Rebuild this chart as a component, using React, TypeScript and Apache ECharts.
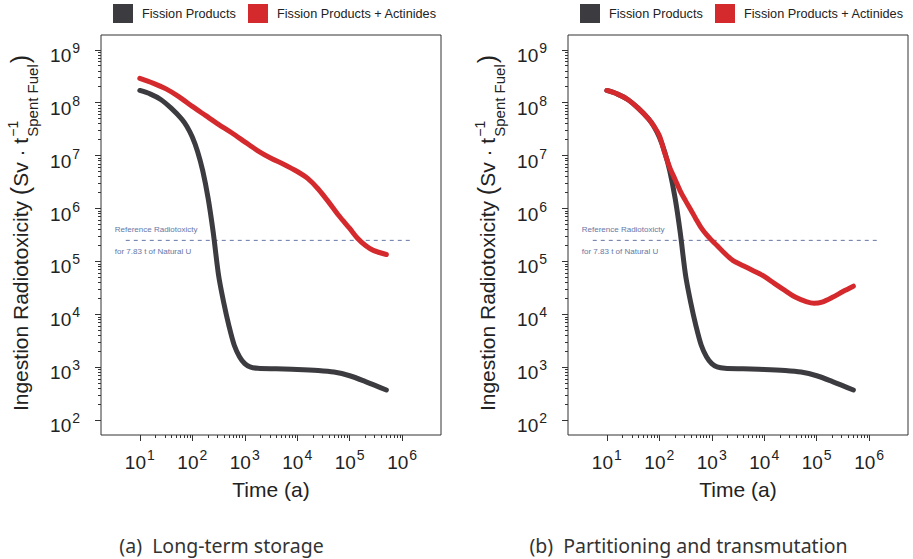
import React, { useEffect, useRef } from "react";
import * as echarts from "echarts";

const SERIES_NAMES = ["Fission Products", "Fission Products + Actinides"];

// Fission products only (same in both panels): time (a), radiotoxicity (Sv / t)
const FP_TIME = [10, 16, 25, 40, 63, 79, 100, 126, 158, 200, 251, 316, 398, 501, 631, 794, 1000, 1260, 1780, 3980, 10000, 25100, 50100, 100000, 200000, 500000];
const FP_VALUE = [1.7e8, 1.45e8, 1.15e8, 7.8e7, 4.9e7, 3.55e7, 2.24e7, 1.2e7, 5.2e6, 1.58e6, 3.5e5, 5.6e4, 1.66e4, 6.0e3, 2.6e3, 1.58e3, 1.17e3, 1.02e3, 955, 933, 912, 871, 813, 692, 537, 372];

// (a) Long-term storage: fission products + actinides
const FPA_A_TIME = [10, 17.8, 31.6, 56.2, 100, 178, 316, 562, 1000, 1780, 3160, 5620, 10000, 15800, 25100, 39800, 63100, 100000, 141000, 200000, 282000, 500000];
const FPA_A_VALUE = [2.88e8, 2.34e8, 1.82e8, 1.29e8, 8.5e7, 5.75e7, 3.9e7, 2.7e7, 1.82e7, 1.23e7, 8.9e6, 6.8e6, 5.0e6, 3.7e6, 2.34e6, 1.32e6, 7.2e5, 4.2e5, 2.75e5, 2.0e5, 1.62e5, 1.35e5];

// (b) Partitioning and transmutation: fission products + actinides
const FPA_B_TIME = [10, 16, 25, 40, 63, 79, 100, 126, 158, 200, 251, 316, 398, 501, 631, 794, 1000, 1260, 1780, 2510, 3980, 6310, 10000, 15800, 25100, 39800, 63100, 89100, 126000, 200000, 316000, 500000];
const FPA_B_VALUE = [1.7e8, 1.45e8, 1.15e8, 7.8e7, 4.9e7, 3.6e7, 2.4e7, 1.15e7, 6.0e6, 3.55e6, 2.14e6, 1.41e6, 9.5e5, 6.3e5, 4.3e5, 3.2e5, 2.5e5, 2.0e5, 1.41e5, 1.05e5, 8.3e4, 6.6e4, 5.2e4, 3.8e4, 2.8e4, 2.1e4, 1.74e4, 1.62e4, 1.7e4, 2.1e4, 2.7e4, 3.4e4];

// Reference radiotoxicity for 7.83 t of natural U
const REF_TIME = [5.4, 1.6e6];
const REF_VALUE = 2.5e5;
const REF_LABELS = ["Reference Radiotoxicty", "for 7.83 t of Natural U"];

const MAJOR_X = [1e1, 1e2, 1e3, 1e4, 1e5, 1e6];
const MAJOR_Y = [1e2, 1e3, 1e4, 1e5, 1e6, 1e7, 1e8, 1e9];
const MINOR_MULT = [2, 3, 4, 5, 6, 7, 8, 9];
const X_RANGE = [1.82, 5.5e6];
const Y_RANGE = [52.5, 1.9e9];

const CAPTIONS = ["(a)\u00a0\u00a0Long-term storage", "(b)\u00a0\u00a0Partitioning and transmutation"];
const X_TITLE = "Time (a)";

const FONT = "'Liberation Sans', Arial, Helvetica, sans-serif";
const CAP_FONT = "'Noto Sans', Lato, sans-serif";
const DARK = "#3b3b40";
const RED = "#d42a2e";
const REFC = "#6677a6";
const TXT = "#222222";

const minors = (majors: number[]) => {
  const out: number[] = [];
  majors.slice(0, -1).forEach((m) => MINOR_MULT.forEach((k) => out.push(m * k)));
  return out;
};
const zip = (a: number[], b: number[]) => a.map((t, i) => [t, b[i]]);
const supFmt = (v: number) => "{b|10}{s|" + Math.round(Math.log10(v)) + "}";

export default function App() {
  const ref = useRef<HTMLDivElement>(null);
  useEffect(() => {
    document.body.style.margin = "0";
    const chart = echarts.init(ref.current!, undefined, { renderer: "svg" });
    const OFF = 467;
    const grids = [0, 1].map((p) => ({
      left: 101 + p * OFF,
      top: 35,
      width: 340,
      height: 400,
      show: true,
      borderColor: "#333",
      borderWidth: 1,
      backgroundColor: "transparent",
      containLabel: false,
      outerBoundsMode: "none",
    }));
    const rich = {
      b: { fontSize: 19, fontFamily: FONT, color: TXT, lineHeight: 24, verticalAlign: "bottom" },
      s: { fontSize: 14, fontFamily: FONT, color: TXT, lineHeight: 10, verticalAlign: "top", padding: [0, 0, 0, 1] },
    };
    const xAxes: any[] = [];
    const yAxes: any[] = [];
    [0, 1].forEach((p) => {
      xAxes.push({
        type: "log", logBase: 10, gridIndex: p, min: X_RANGE[0], max: X_RANGE[1], position: "bottom",
        axisLine: { show: false, onZero: false },
        axisTick: { show: true, length: 6, customValues: MAJOR_X, lineStyle: { color: "#333" } },
        axisLabel: { customValues: MAJOR_X, formatter: supFmt, rich, margin: 13 },
        splitLine: { show: false },
        name: X_TITLE, nameLocation: "middle", nameGap: 44,
        nameTextStyle: { fontSize: 21, color: TXT, fontFamily: FONT },
      });
      xAxes.push({
        type: "log", logBase: 10, gridIndex: p, min: X_RANGE[0], max: X_RANGE[1], position: "bottom",
        axisLine: { show: false, onZero: false },
        axisTick: { show: true, length: 3, customValues: minors(MAJOR_X), lineStyle: { color: "#333" } },
        axisLabel: { show: false },
        splitLine: { show: false },
      });
      yAxes.push({
        type: "log", logBase: 10, gridIndex: p, min: Y_RANGE[0], max: Y_RANGE[1], position: "left",
        axisLine: { show: false, onZero: false },
        axisTick: { show: true, length: 6, customValues: MAJOR_Y, lineStyle: { color: "#333" } },
        axisLabel: { customValues: MAJOR_Y, formatter: supFmt, rich, margin: 21, padding: [6, 0, 0, 0] },
        splitLine: { show: false },
      });
      yAxes.push({
        type: "log", logBase: 10, gridIndex: p, min: Y_RANGE[0], max: Y_RANGE[1], position: "left",
        axisLine: { show: false, onZero: false },
        axisTick: { show: true, length: 3, customValues: minors(MAJOR_Y), lineStyle: { color: "#333" } },
        axisLabel: { show: false },
        splitLine: { show: false },
      });
    });
    const lineSeries = (name: string, color: string, p: number, t: number[], v: number[]) => ({
      type: "line", name, xAxisIndex: p * 2, yAxisIndex: p * 2, data: zip(t, v),
      symbol: "none", showSymbol: false, smooth: 0.3, color, itemStyle: { color },
      lineStyle: { width: 5, color, cap: "round", join: "round" }, z: 3,
    });
    const refSeries = (p: number) => ({
      type: "line", name: "Reference", xAxisIndex: p * 2, yAxisIndex: p * 2,
      data: REF_TIME.map((t) => [t, REF_VALUE]), symbol: "none", silent: true,
      lineStyle: { width: 1, color: REFC, type: [4, 4] }, z: 2,
    });
    const legendPos = [113, 248];
    const legends: any[] = [];
    [0, 1].forEach((p) =>
      SERIES_NAMES.forEach((n, i) =>
        legends.push({
          data: [n], left: legendPos[i] + p * OFF, top: 4, padding: 0, icon: "rect", itemWidth: 20, itemHeight: 19,
          textStyle: { fontSize: 12.7, color: TXT, fontFamily: FONT, padding: [0, 0, 0, 4] },
          selectedMode: false, width: 300,
        })
      )
    );
    chart.setOption({
      animation: false,
      textStyle: { fontFamily: FONT },
      grid: grids,
      xAxis: xAxes,
      yAxis: yAxes,
      legend: legends,
      series: [
        refSeries(0),
        lineSeries(SERIES_NAMES[0], DARK, 0, FP_TIME, FP_VALUE),
        lineSeries(SERIES_NAMES[1], RED, 0, FPA_A_TIME, FPA_A_VALUE),
        refSeries(1),
        lineSeries(SERIES_NAMES[0], DARK, 1, FP_TIME, FP_VALUE),
        lineSeries(SERIES_NAMES[1], RED, 1, FPA_B_TIME, FPA_B_VALUE),
      ],
    });

    // y-axis titles (rotated, with super/subscripts)
    const ctx = document.createElement("canvas").getContext("2d")!;
    const tw = (s: string, size: number) => { ctx.font = `${size}px ${FONT}`; return ctx.measureText(s).width; };
    const txt = (text: string, size: number, x: number, y: number, fill = TXT, extra: any = {}) => ({
      type: "text", x, y,
      style: { text, font: `${size}px ${FONT}`, fill, align: "left", verticalAlign: "middle", textAlign: "left", textVerticalAlign: "middle", ...extra },
    });
    const yTitle = (cx: number, cy: number) => {
      const parts: any[] = [];
      let x = 0;
      const main1 = "Ingestion Radiotoxicity ";
      parts.push(txt(main1, 21, x, 0)); x += tw(main1, 21);
      parts.push(txt("(", 25, x, -1)); x += tw("(", 25);
      const main2 = "Sv · t";
      parts.push(txt(main2, 21, x, 0)); x += tw(main2, 21) + 1;
      parts.push(txt("−1", 14, x, -8));
      parts.push(txt("Spent Fuel", 15, x, 12));
      x += Math.max(tw("−1", 14), tw("Spent Fuel", 15)) + 1;
      parts.push(txt(")", 25, x, -1)); x += tw(")", 25);
      const L = x;
      parts.forEach((c) => (c.x -= L / 2));
      return { type: "group", x: cx, y: cy, rotation: Math.PI / 2, children: parts };
    };
    const graphics: any[] = [];
    [0, 1].forEach((p) => {
      graphics.push(yTitle(20.7 + p * OFF, 233));
      const start = chart.convertToPixel({ xAxisIndex: p * 2, yAxisIndex: p * 2 } as any, [REF_TIME[0], REF_VALUE]) as number[];
      graphics.push(txt(REF_LABELS[0], 8, start[0] - 11, start[1] - 11, REFC));
      graphics.push(txt(REF_LABELS[1], 8, start[0] - 11, start[1] + 11, REFC));
    });
    const capX = [221.5, 688.5];
    CAPTIONS.forEach((c, i) =>
      graphics.push({ type: "text", x: capX[i], y: 545, style: { text: c, font: `19.5px ${CAP_FONT}`, fill: "#333", align: "center", verticalAlign: "middle", textAlign: "center", textVerticalAlign: "middle" } })
    );
    chart.setOption({ graphic: graphics });
    return () => chart.dispose();
  }, []);
  return <div ref={ref} style={{ width: 913, height: 559 }} />;
}
